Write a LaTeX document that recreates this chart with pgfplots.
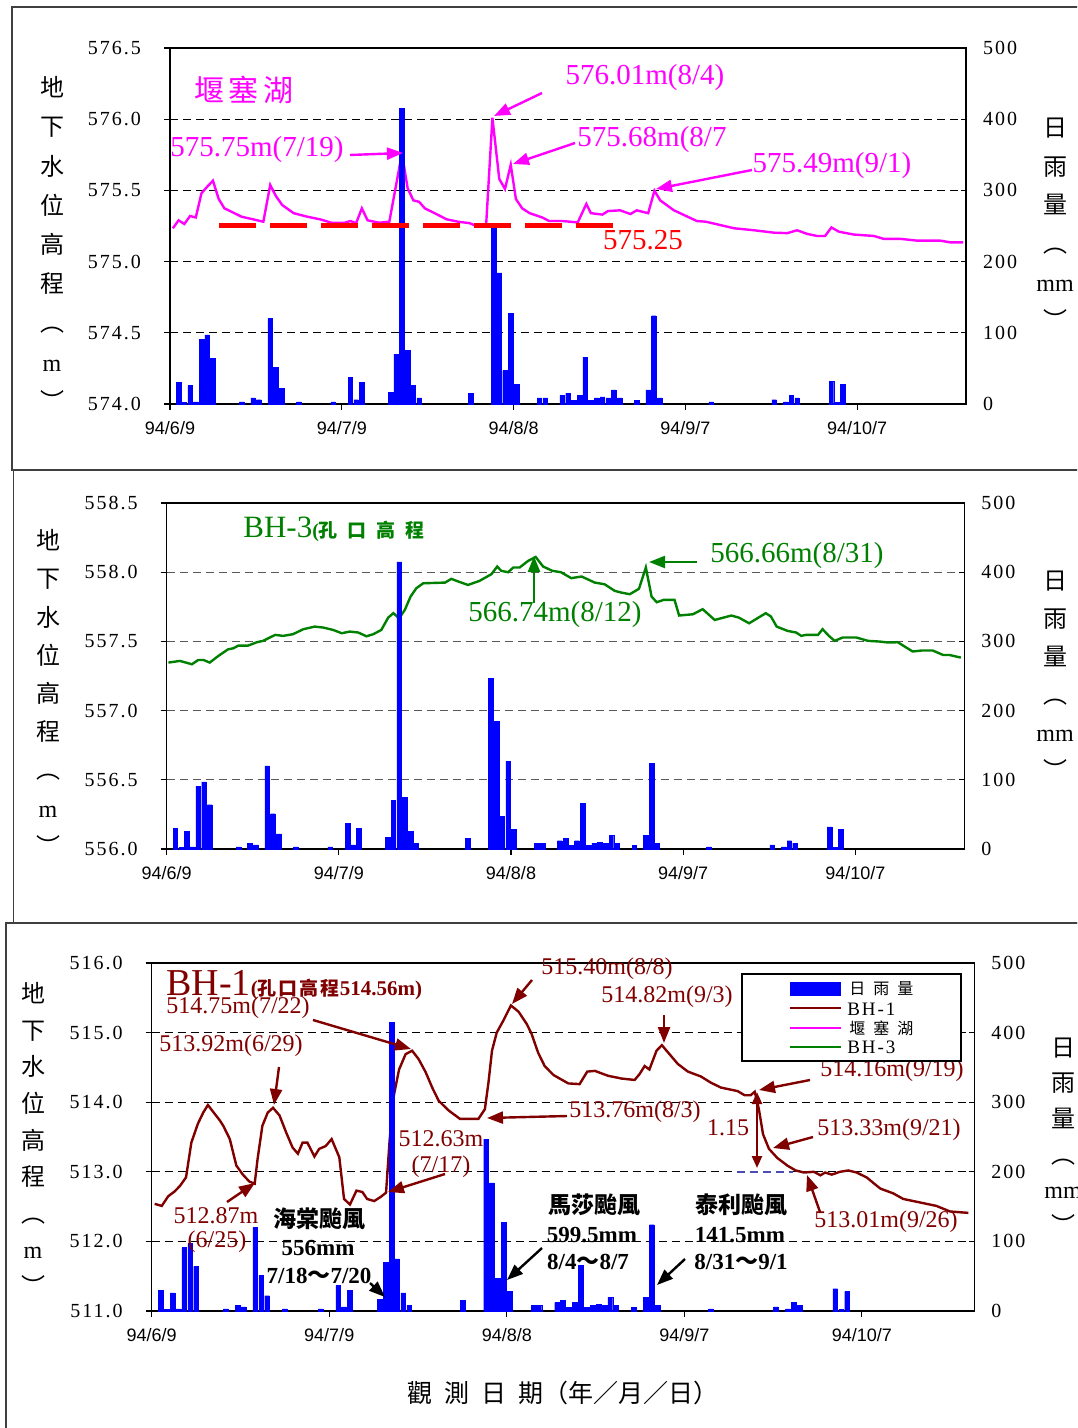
\documentclass[border=0pt]{standalone}
\usepackage{fontspec}
\setmainfont{Liberation Serif}
\newfontfamily\cjk{Noto Sans CJK TC}
\newfontfamily\arial{Liberation Sans}
\newfontfamily\tnum[LetterSpace=10]{Liberation Serif}
\usepackage{pgfplots}
\usepackage{pgfplotstable}
\pgfplotsset{compat=1.18}
\usetikzlibrary{arrows.meta}

\definecolor{lake}{HTML}{FF00FF}
\definecolor{bhthree}{HTML}{008000}
\definecolor{bhone}{HTML}{800000}
\definecolor{rain}{HTML}{0000FF}

% daily rainfall (mm), x = day after 94/6/9 + 0.5
\pgfplotstableread{
x y
1.5 30
2.5 2
3.5 26
4.5 3
5.5 91
6.5 97
7.5 64
12.5 3
14.5 8.5
15.5 6
17.5 120
18.5 51
19.5 22
22.5 3
28.5 3
31.5 37
32.5 6
33.5 30
38.5 16.5
39.5 70
40.5 415
41.5 75
42.5 26
43.5 8.5
52.5 15
56.5 247
57.5 184
58.5 47
59.5 127
60.5 28
64.5 8.5
65.5 8.5
68.5 12
69.5 15
70.5 5
71.5 12
72.5 66
73.5 5
74.5 8.5
75.5 10
76.5 8.5
77.5 20
78.5 8.5
81.5 5
83.5 20
84.5 124
85.5 8.5
94.5 3
105.5 6
107.5 3
108.5 12
109.5 8.5
115.5 32
116.5 2
117.5 28
}\rain

\pgfplotstableread{
x y
0.5 575.234
1.5 575.29
2.5 575.264
3.5 575.32
4.5 575.31
5.5 575.48
6.5 575.526
7.5 575.568
8.5 575.44
9.5 575.374
10.5 575.355
12.5 575.315
14.5 575.297
16.3 575.28
17.5 575.538
18.5 575.46
19.6 575.397
21.6 575.34
24.0 575.315
26.2 575.297
28.2 575.273
30.5 575.273
31.5 575.285
32.5 575.27
33.5 575.374
34.5 575.29
36.5 575.273
38.3 575.28
40.5 575.76
41.5 575.515
42.5 575.43
43.5 575.42
44.5 575.374
46.5 575.334
48.3 575.297
50.3 575.28
52.3 575.27
53.5 575.25
55.2 575.255
56.3 576.01
57.5 575.58
58.5 575.51
59.5 575.68
60.4 575.44
61.5 575.374
62.8 575.34
65.0 575.31
66.2 575.285
68.5 575.285
71.2 575.275
72.7 575.405
73.5 575.34
75.5 575.33
76.5 575.355
78.6 575.36
80.4 575.334
81.5 575.36
83.5 575.34
84.6 575.498
85.6 575.43
88.0 575.36
92.0 575.285
93.6 575.28
98.5 575.234
102.0 575.22
105.5 575.203
107.8 575.20
109.5 575.22
111.3 575.194
113.0 575.18
114.4 575.18
115.5 575.24
116.8 575.21
119.4 575.19
122.9 575.18
124.6 575.16
127.5 575.16
130.5 575.147
134.5 575.147
136.3 575.135
138.5 575.135
}\lakeline

\pgfplotstableread{
x y
0.3 557.347
2.3 557.359
4.4 557.335
5.5 557.366
6.4 557.366
7.5 557.347
9.0 557.395
10.7 557.443
11.6 557.45
12.5 557.47
14.2 557.47
15.7 557.494
16.8 557.504
18.9 557.547
20.3 557.54
22.0 557.552
23.8 557.588
25.8 557.607
27.3 557.6
29.0 557.583
30.5 557.559
31.9 557.571
33.4 557.564
34.8 557.537
36.0 557.552
37.4 557.583
38.6 557.672
39.5 557.704
40.5 557.667
41.5 557.728
42.5 557.824
43.5 557.884
44.7 557.92
48.5 557.925
49.6 557.952
50.8 557.933
52.5 557.908
54.5 557.937
56.6 557.986
57.6 558.041
58.3 558.01
59.5 558.0
60.4 558.034
61.5 558.034
63.0 558.082
64.3 558.11
65.6 558.041
67.2 558.01
68.7 558.0
70.5 557.957
72.3 557.969
74.6 557.925
76.3 557.913
78.1 557.865
79.2 557.853
80.7 557.841
82.3 557.88
83.5 558.034
84.5 557.824
85.4 557.783
86.6 557.8
88.5 557.8
89.3 557.687
91.7 557.696
93.4 557.733
95.5 557.655
98.4 557.687
99.7 557.672
101.5 557.631
104.4 557.704
105.3 557.68
106.3 557.607
108.2 557.576
109.7 557.564
110.6 557.54
111.4 557.547
113.5 557.547
114.3 557.588
115.4 557.54
116.4 557.504
117.8 557.528
120.2 557.528
122.2 557.504
124.2 557.499
125.7 557.492
127.4 557.494
128.6 557.463
130.0 557.427
131.5 557.434
133.5 557.434
135.3 557.402
136.4 557.402
138.4 557.383
}\bhthreeline

\pgfplotstableread{
x y
0.5 512.54
1.7 512.51
2.8 512.65
3.9 512.72
4.8 512.80
5.8 512.92
6.7 513.42
7.8 513.69
8.7 513.85
9.5 513.96
10.4 513.86
11.5 513.74
12.1 513.66
13.2 513.47
14.3 513.09
15.4 512.96
16.5 512.86
17.4 512.83
17.9 513.19
18.7 513.66
19.6 513.85
20.5 513.92
21.6 513.81
22.7 513.57
23.8 513.35
24.7 513.26
25.5 513.42
26.3 513.42
27.5 513.22
28.3 513.33
29.4 513.37
30.4 513.47
31.7 513.21
32.5 512.61
33.5 512.53
34.6 512.73
35.6 512.71
36.4 512.61
37.6 512.58
38.7 512.64
39.6 512.70
40.2 513.45
40.9 514.09
41.8 514.47
42.9 514.69
44.0 514.74
45.1 514.62
46.3 514.43
47.4 514.21
48.5 514.02
50.2 513.88
52.1 513.76
55.2 513.76
56.3 513.90
56.9 514.28
57.5 514.74
58.3 515.0
59.4 515.17
60.7 515.39
62.0 515.30
63.4 515.12
64.2 514.98
65.3 514.71
66.4 514.52
67.9 514.39
70.4 514.27
72.3 514.26
73.6 514.44
74.9 514.45
77.1 514.38
79.4 514.34
81.6 514.32
82.4 514.40
83.3 514.52
84.1 514.47
85.3 514.74
86.2 514.82
87.5 514.69
88.9 514.55
90.6 514.44
92.8 514.37
94.5 514.28
96.2 514.21
99.0 514.16
100.2 514.10
101.2 514.10
101.9 514.15
102.6 513.90
103.3 513.54
104.3 513.33
105.7 513.20
107.4 513.09
108.8 513.02
110.2 512.99
111.9 513.0
113.0 512.95
113.8 512.99
114.9 512.96
116.3 513.0
117.7 513.02
119.1 512.99
120.8 512.92
123.1 512.76
125.3 512.69
127.0 512.61
129.8 512.56
132.6 512.51
134.9 512.43
138.0 512.41
}\bhoneline

\pgfplotsset{
  lev/.style={
    scale only axis, anchor=south west,
    xmin=0, xmax=139,
    xtick={0,30,60,90,120},
    xticklabels={94/6/9,94/7/9,94/8/8,94/9/7,94/10/7},
    xtick pos=bottom, ytick pos=left,
    tick align=outside, major tick length=3pt,
    axis line style={black, line width=0.6pt},
    tick style={black, line width=0.6pt},
    xticklabel style={font=\arial\fontsize{9}{9}\selectfont, yshift=-2pt},
    yticklabel style={font=\tnum\fontsize{10}{10}\selectfont, xshift=-8pt,
      /pgf/number format/fixed, /pgf/number format/fixed zerofill,
      /pgf/number format/precision=1},
    /pgf/number format/assume math mode=true,
    ymajorgrids,
    grid style={black, line width=0.5pt, dash pattern=on 4pt off 2.5pt},
  },
  rainax/.style={
    scale only axis, anchor=south west,
    xmin=0, xmax=139, ymin=0, ymax=500,
    ytick={0,100,...,500},
    hide x axis, axis y line*=right,
    tick align=inside, major tick length=2.5pt,
    axis line style={black, line width=0.6pt},
    tick style={black, line width=0.6pt},
    yticklabel style={font=\tnum\fontsize{10}{10}\selectfont, xshift=5pt},
    /pgf/number format/assume math mode=true,
  },
  barsty/.style={ybar, bar width=0.8, fill=rain, draw=rain, line width=0.2pt},
}

\tikzset{
  arr/.style={line width=1.2pt, -{Triangle[length=8pt,width=6pt]}},
  vlab/.style={align=center, inner sep=0pt},
}

\begin{document}
\begin{tikzpicture}
\useasboundingbox (0,0) rectangle (538.5pt,-714pt);
\clip (0,0) rectangle (538.5pt,-714pt);

% ---------- top: 堰塞湖 ----------
\begin{axis}[lev, at={(85pt,-202pt)}, width=398pt, height=178pt,
  ymin=574, ymax=576.5, ytick={574,574.5,...,576.5}]
\addplot[lake, line width=1.2pt] table {\lakeline};
\end{axis}
\begin{axis}[rainax, at={(85pt,-202pt)}, width=398pt, height=178pt]
\addplot[barsty] table {\rain};
\end{axis}

% ---------- middle: BH-3 ----------
\begin{axis}[lev, at={(83.35pt,-424.5pt)}, width=398.8pt, height=173pt,
  ymin=556, ymax=558.5, ytick={556,556.5,...,558.5},
  grid style={black!65, line width=0.5pt, dash pattern=on 4pt off 2.5pt}]
\addplot[bhthree, line width=1.2pt] table {\bhthreeline};
\end{axis}
\begin{axis}[rainax, at={(83.35pt,-424.5pt)}, width=398.8pt, height=173pt]
\addplot[barsty] table {\rain};
\end{axis}

% ---------- bottom: BH-1 ----------
\begin{axis}[lev, at={(75.85pt,-655.5pt)}, width=411.3pt, height=174pt,
  ymin=511, ymax=516, ytick={511,512,...,516}]
\addplot[bhone, line width=1.2pt] table {\bhoneline};
\end{axis}
\begin{axis}[rainax, at={(75.85pt,-655.5pt)}, width=411.3pt, height=174pt]
\addplot[barsty] table {\rain};
\end{axis}

\begin{scope}[x=0.5pt, y=-0.5pt]
% panel frames
\draw[black!75, line width=0.75pt] (12,7) rectangle (1090,470);
\draw[black!75, line width=0.75pt] (13.5,469.5) rectangle (1090,923);
\draw[black!75, line width=0.75pt] (6,923) rectangle (1090,1440);

% axis titles
\foreach \xl/\yl/\xr/\yr/\sl/\sr in {52/243.5/1055/224/19.6/19.3, 48/692.5/1055/675/19.1/19, 33/1139/1063/1136/18.3/17.8}{
  \node[vlab, font=\cjk\fontsize{12}{\sl}\selectfont] at (\xl,\yl)
    {地\\下\\水\\位\\高\\程\\︵\\{\rmfamily m}\\︶};
  \node[vlab, font=\cjk\fontsize{12}{\sr}\selectfont] at (\xr,\yr)
    {日\\雨\\量\\︵\\{\rmfamily mm}\\︶};
}
\node[font=\cjk\fontsize{12.5}{12.5}\selectfont, inner sep=0pt] at (563,1393)
  {觀\hspace{6pt}測\hspace{6pt}日\hspace{6pt}期（年／月／日）};

% ---------- top annotations ----------
\node[lake, font=\cjk\fontsize{15}{15}\selectfont, inner sep=0pt] at (244,90)
  {堰\hspace{2.5pt}塞\hspace{2.5pt}湖};
\node[lake, font=\fontsize{14.5}{14.5}\selectfont, inner sep=0pt] at (645,78) {576.01m(8/4)};
\draw[lake, arr] (542,93) -- (494,116);
\node[lake, font=\fontsize{14.5}{14.5}\selectfont, inner sep=0pt] at (257,150) {575.75m(7/19)};
\draw[lake, arr] (350,155) -- (403,153);
\node[lake, font=\fontsize{14.5}{14.5}\selectfont, inner sep=0pt] at (652,140) {575.68m(8/7};
\draw[lake, arr] (575,143) -- (513,164);
\node[lake, font=\fontsize{14.5}{14.5}\selectfont, inner sep=0pt] at (832,166) {575.49m(9/1)};
\draw[lake, arr] (752,170) -- (656,189);
\draw[red, line width=2.5pt, dash pattern=on 18.5pt off 7pt] (219,226) -- (613,226);
\node[red, font=\fontsize{14.5}{14.5}\selectfont, inner sep=0pt] at (643,240) {575.25};

% ---------- middle annotations ----------
\node[bhthree, anchor=base west, inner sep=0pt] at (243,537)
  {{\fontsize{15.5}{15.5}\selectfont BH-3}{\fontsize{10}{10}\selectfont\bfseries(}{\cjk\bfseries\fontsize{9.5}{9.5}\selectfont 孔\hspace{5pt}口\hspace{5pt}高\hspace{5pt}程}};
\node[bhthree, font=\fontsize{14.5}{14.5}\selectfont, inner sep=0pt] at (797,556) {566.66m(8/31)};
\draw[bhthree, arr] (697,562) -- (649,562);
\node[bhthree, font=\fontsize{14.5}{14.5}\selectfont, inner sep=0pt] at (555,615) {566.74m(8/12)};
\draw[bhthree, arr] (534,603) -- (534,556);

% ---------- bottom annotations ----------
\node[bhone, anchor=base west, inner sep=0pt] at (166,995)
  {{\fontsize{19}{19}\selectfont BH-1}{\bfseries\fontsize{10.5}{10.5}\selectfont(}{\cjk\bfseries\fontsize{9.5}{9.5}\selectfont 孔\hspace{1pt}口\hspace{1pt}高\hspace{1pt}程}{\bfseries\fontsize{10.5}{10.5}\selectfont 514.56m)}};
\tikzset{bl/.style={bhone, font=\fontsize{12}{12}\selectfont, inner sep=0pt}}
\node[bl] at (238,1008) {514.75m(7/22)};
\draw[bhone, arr] (313,1020) -- (411,1049);
\node[bl] at (231,1046) {513.92m(6/29)};
\draw[bhone, arr] (279,1067) -- (274,1105);
\node[bl] at (216,1216) {512.87m};
\node[bl] at (217,1242) {(6/25)};
\draw[bhone, arr] (227,1202) -- (255,1183);
\node[bl] at (441,1139) {512.63m};
\node[bl] at (441,1167) {(7/17)};
\draw[bhone, arr] (445,1174) -- (388,1192);
\node[bl] at (607,969) {515.40m(8/8)};
\draw[bhone, arr] (532,980) -- (512,1004);
\node[bl] at (667,997) {514.82m(9/3)};
\draw[bhone, arr] (664,1015) -- (664,1043);
\node[bl] at (635,1112) {513.76m(8/3)};
\draw[bhone, arr] (567,1116) -- (487,1118);
\node[bl] at (892,1071) {514.16m(9/19)};
\draw[bhone, arr] (810,1080) -- (759,1090);
\node[bl] at (728,1128) {1.15};
\draw[bhone, line width=1.2pt, {Triangle[length=6pt,width=5pt]}-{Triangle[length=6pt,width=5pt]}] (757,1092) -- (757,1168);
\draw[blue!40!gray, line width=0.8pt, dash pattern=on 4pt off 2.5pt] (737,1172) -- (793,1172);
\node[bl] at (889,1130) {513.33m(9/21)};
\draw[bhone, arr] (813,1137) -- (773,1148);
\node[bl] at (886,1222) {513.01m(9/26)};
\draw[bhone, arr] (820,1212) -- (807,1175);

% typhoons
\tikzset{tc/.style={black, font=\cjk\bfseries\fontsize{11.5}{11.5}\selectfont, inner sep=0pt},
         tn/.style={black, font=\bfseries\fontsize{11.5}{11.5}\selectfont, inner sep=0pt}}
\node[tc] at (319,1219) {海棠颱風};
\node[tn] at (318,1248) {556mm};
\node[tn] at (319,1276) {7/18{\cjk\bfseries ～}7/20};
\draw[black, arr] (370,1283) -- (385,1297);
\node[tc] at (594,1205) {馬莎颱風};
\node[tn] at (592,1235) {599.5mm};
\node[tn] at (588,1262) {8/4{\cjk\bfseries ～}8/7};
\draw[black, arr] (542,1248) -- (507,1280);
\node[tc] at (741,1205) {泰利颱風};
\node[tn] at (740,1235) {141.5mm};
\node[tn] at (741,1262) {8/31{\cjk\bfseries ～}9/1};
\draw[black, arr] (685,1259) -- (657,1285);

% legend
\draw[black, fill=white, line width=0.6pt] (742,974) rectangle (961,1061);
\fill[rain] (790,982) rectangle (841,996);
\draw[bhone, line width=1.2pt] (790,1008) -- (841,1008);
\draw[lake, line width=1.2pt] (790,1028) -- (841,1028);
\draw[bhthree, line width=1.2pt] (790,1047) -- (841,1047);
\node[anchor=west, inner sep=0pt, font=\cjk\fontsize{8}{8}\selectfont] at (849,989) {日\hspace{4pt}雨\hspace{4pt}量};
\node[anchor=west, inner sep=0pt, font=\tnum\fontsize{9.5}{9.5}\selectfont] at (847,1009) {BH-1};
\node[anchor=west, inner sep=0pt, font=\cjk\fontsize{8}{8}\selectfont] at (849,1028) {堰\hspace{4pt}塞\hspace{4pt}湖};
\node[anchor=west, inner sep=0pt, font=\tnum\fontsize{9.5}{9.5}\selectfont] at (847,1047) {BH-3};
\end{scope}
\end{tikzpicture}
\end{document}
